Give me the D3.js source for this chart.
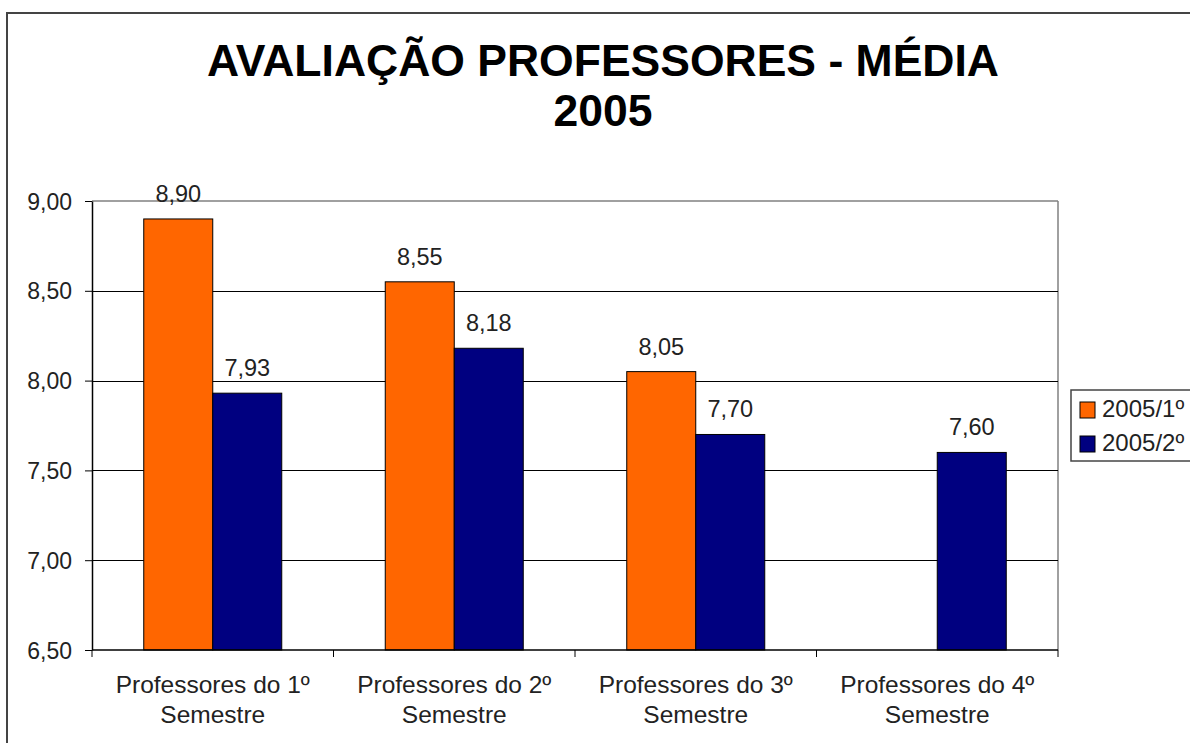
<!DOCTYPE html>
<html><head><meta charset="utf-8">
<script src="https://cdn.jsdelivr.net/npm/d3@7"></script>
<style>body{margin:0;background:#fff}svg{display:block}text{font-family:"Liberation Sans",Arial,sans-serif}</style>
</head><body>
<svg id="c" width="1190" height="743"></svg>
<script>
const categories = ["Professores do 1º|Semestre","Professores do 2º|Semestre","Professores do 3º|Semestre","Professores do 4º|Semestre"];
const seriesNames = ["2005/1º","2005/2º"];
const series1 = [8.90, 8.55, 8.05, null];
const series2 = [7.93, 8.18, 7.70, 7.60];
const yTicks = [6.5, 7.0, 7.5, 8.0, 8.5, 9.0];
const colors = ["#FF6600","#000080"];

const svg = d3.select("#c");
const L = 92, R = 1058, T = 201, B = 650;
const fmt = v => d3.format(".2f")(v).replace(".", ",");

// outer border
svg.append("rect").attr("x",7).attr("y",13).attr("width",1300).attr("height",1000)
  .attr("fill","#fff").attr("stroke","#444").attr("stroke-width",2);

// title
svg.append("text").attr("x",603).attr("y",76).attr("text-anchor","middle")
  .attr("font-size",44.5).attr("font-weight","bold").attr("fill","#000").text("AVALIAÇÃO PROFESSORES - MÉDIA");
svg.append("text").attr("x",603).attr("y",126).attr("text-anchor","middle")
  .attr("font-size",44.5).attr("font-weight","bold").attr("fill","#000").text("2005");

const y = d3.scaleLinear().domain([6.5, 9.0]).range([B, T]);
const x0 = d3.scaleBand().domain(categories).range([L, R]).paddingInner(1.5/3.5).paddingOuter(0.75/3.5);
const x1 = d3.scaleBand().domain([0,1]).range([0, x0.bandwidth()]);
const step = x0.step();

// plot border (gray top/right)
svg.append("line").attr("x1",L).attr("x2",R).attr("y1",T).attr("y2",T).attr("stroke","#808080").attr("stroke-width",1.5);
svg.append("line").attr("x1",R).attr("x2",R).attr("y1",T).attr("y2",B).attr("stroke","#808080").attr("stroke-width",1.5);

// gridlines
svg.append("g").selectAll("line").data(yTicks.filter(t => t>6.5 && t<9)).join("line")
  .attr("x1",L).attr("x2",R).attr("y1",d=>Math.round(y(d))+0.5).attr("y2",d=>Math.round(y(d))+0.5)
  .attr("stroke","#000").attr("stroke-width",1);

// bars
const data = categories.map((c,i)=>({c, vals:[series1[i], series2[i]]}));
const g = svg.append("g");
data.forEach(d=>{
  d.vals.forEach((v,j)=>{
    if (v==null) return;
    const bx = x0(d.c) + x1(j);
    g.append("rect").attr("x",bx).attr("y",y(v)).attr("width",x1.bandwidth()).attr("height",B-y(v))
      .attr("fill",colors[j]).attr("stroke","#000").attr("stroke-width",1);
    g.append("text").attr("x",bx + x1.bandwidth()/2).attr("y",y(v)-17).attr("text-anchor","middle")
      .attr("font-size",23.5).attr("fill","#222").text(fmt(v));
  });
});

// y axis
const yAxis = d3.axisLeft(y).tickValues(yTicks).tickFormat(fmt).tickSize(7).tickSizeOuter(0);
const ya = svg.append("g").attr("transform",`translate(${L},0)`).call(yAxis);
ya.select(".domain").attr("stroke","#000").attr("stroke-width",1.5);
ya.selectAll(".tick line").attr("stroke","#000");
ya.selectAll(".tick text").attr("font-size",23).attr("fill","#222").attr("x",-20).attr("dy","0.35em")
  .style("font-family",'"Liberation Sans",Arial,sans-serif');

// x axis baseline + ticks at category boundaries
svg.append("line").attr("x1",L).attr("x2",R).attr("y1",B).attr("y2",B).attr("stroke","#000").attr("stroke-width",1.5);
const bounds = d3.range(categories.length+1).map(i => L + i*step);
svg.append("g").selectAll("line").data(bounds).join("line")
  .attr("x1",d=>d).attr("x2",d=>d).attr("y1",B).attr("y2",B+7).attr("stroke","#000").attr("stroke-width",1);

// category labels
categories.forEach(c=>{
  const cx = x0(c) + x0.bandwidth()/2;
  const lines = c.split("|");
  lines.forEach((ln,k)=>{
    svg.append("text").attr("x",cx).attr("y",693 + k*30).attr("text-anchor","middle")
      .attr("font-size",24.5).attr("fill","#222").text(ln);
  });
});

// legend
svg.append("rect").attr("x",1071).attr("y",390).attr("width",200).attr("height",71)
  .attr("fill","#fff").attr("stroke","#444").attr("stroke-width",1.5);
seriesNames.forEach((n,i)=>{
  const yy = 402 + i*34;
  svg.append("rect").attr("x",1080).attr("y",yy).attr("width",15).attr("height",16)
    .attr("fill",colors[i]).attr("stroke","#000").attr("stroke-width",1);
  svg.append("text").attr("x",1102).attr("y",yy+15).attr("font-size",24).attr("fill","#222").text(n);
});
</script>
</body></html>
